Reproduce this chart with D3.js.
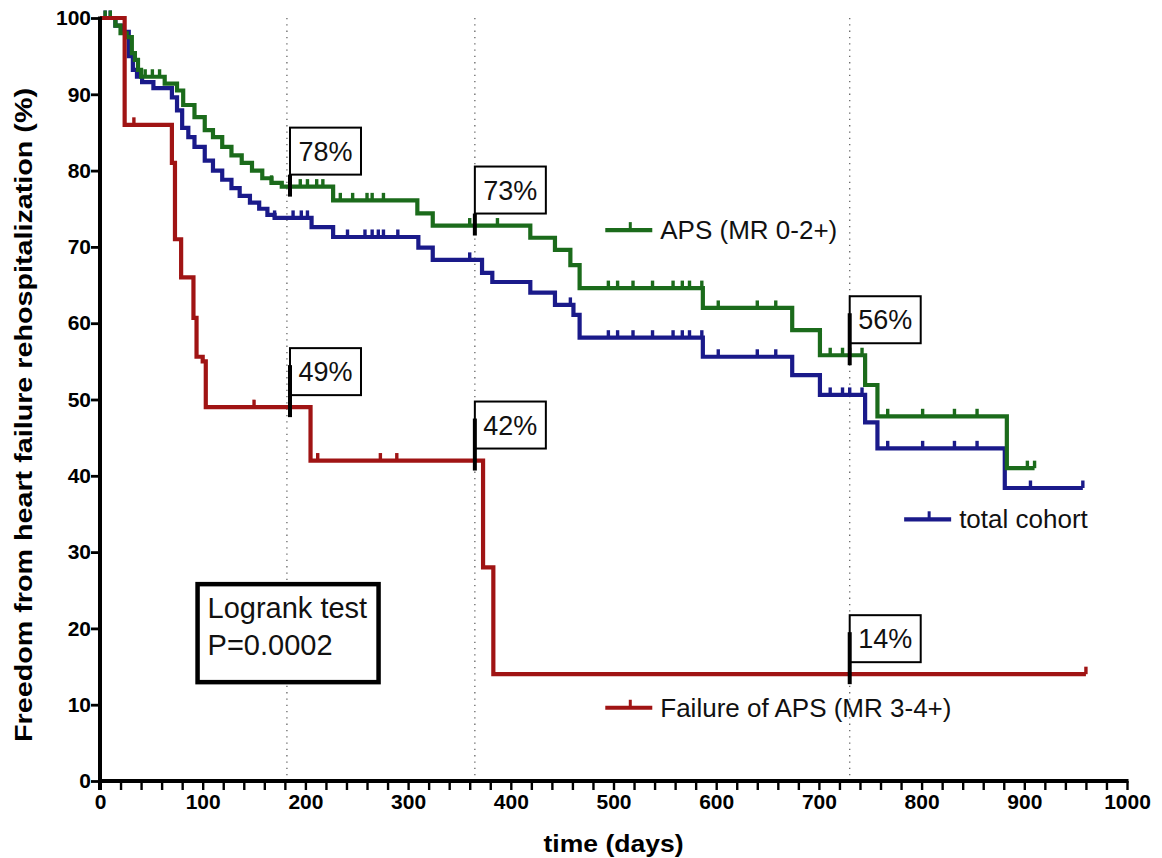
<!DOCTYPE html>
<html><head><meta charset="utf-8">
<script src="https://cdn.jsdelivr.net/npm/d3@7"></script>
<style>body{margin:0;background:#fff}svg{display:block}text{font-family:"Liberation Sans",Arial,sans-serif}</style>
</head><body>
<svg id="c" width="1162" height="858"></svg>
<script>
// ---- data ----
const xTicks = [0,100,200,300,400,500,600,700,800,900,1000];
const yTicks = [0,10,20,30,40,50,60,70,80,90,100];
const refDays = [182,365,730];

// [day, survival %] steps; last entry = end of follow-up
const greenSteps = [[0,100],[15,99],[20,98],[26,97.5],[31,95.4],[34,94.5],[37,93.2],[40,92.3],[63,91.4],[75,90.5],[81,88.6],[92,87],[102,85.3],[110,84.4],[119,83.1],[128,82],[138,81],[148,80],[158,79],[167,78.4],[177,77.9],[227,76.1],[309,74.4],[324,72.8],[419,71.2],[443,69.6],[458,67.6],[467,64.6],[587,62.0],[674,59.1],[701,55.8],[745,51.9],[757,47.8],[883,41.0],[910,41.0]];
const greenCensor = [5,10,44,51,58,167,195,202,211,217,234,246,260,265,276,360,387,495,504,519,538,558,567,574,586,602,640,658,711,723,730,742,767,801,832,854,903,910];

const blueSteps = [[0,100],[15,99],[22,98.2],[28,95],[32,93.2],[36,92.3],[41,91.6],[52,90.8],[70,89.6],[75,87.9],[80,85.6],[86,84.4],[92,83.1],[102,81.3],[110,80],[119,78.8],[128,77.7],[136,76.7],[146,75.8],[155,75],[163,74.2],[170,73.8],[206,72.6],[227,71.3],[310,69.9],[324,68.3],[372,66.6],[382,65.4],[419,64.0],[443,62.4],[461,61.1],[467,58.1],[587,55.6],[674,53.2],[701,50.6],[745,47.0],[757,43.6],[881,38.4],[957,38.4]];
const blueCensor = [5,10,170,188,196,202,241,258,265,271,276,290,360,458,495,504,519,538,558,567,574,586,602,640,658,711,723,730,742,767,801,832,854,906,957];

const redSteps = [[0,100],[24,86],[70,81],[73,71],[79,66],[91,60.7],[94,55.6],[100,55],[103,49],[205,42],[373,28],[383,14],[960,14]];
const redCensor = [33,150,212,273,289,960];

const flags = [
  {label:"78%", day:185, value:77.9, pole:"short"},
  {label:"73%", day:365, value:72.8, pole:"short"},
  {label:"56%", day:730, value:55.8, pole:"long"},
  {label:"49%", day:185, value:49, pole:"long"},
  {label:"42%", day:365, value:42, pole:"long"},
  {label:"14%", day:730, value:14, pole:"long"}
];

const legends = [
  {label:"APS (MR 0-2+)", color:"#1b6b1b", day:492, value:72.2},
  {label:"total cohort", color:"#1a1a8a", day:783, value:34.3},
  {label:"Failure of APS (MR 3-4+)", color:"#a01414", day:492, value:9.6}
];

// ---- drawing ----
const svg = d3.select("#c");
const x = d3.scaleLinear().domain([0,1000]).range([100,1127]);
const y = d3.scaleLinear().domain([0,100]).range([781,18]);

// reference dotted lines
svg.selectAll(".ref").data(refDays).join("line")
  .attr("x1",d=>x(d)).attr("x2",d=>x(d)).attr("y1",y(100)).attr("y2",y(0))
  .attr("stroke","#666").attr("stroke-width",1.3).attr("stroke-dasharray","1.3,5");

const series = [
  {steps:greenSteps, censor:greenCensor, color:"#1b6b1b"},
  {steps:blueSteps, censor:blueCensor, color:"#1a1a8a"},
  {steps:redSteps, censor:redCensor, color:"#a01414"}
];
const line = d3.line().x(d=>x(d[0])).y(d=>y(d[1])).curve(d3.curveStepAfter);
function valAt(steps, t){ let v=steps[0][1]; for(const s of steps){ if(s[0]<=t) v=s[1]; } return v; }

[series[1], series[0], series[2]].forEach(s=>{
  svg.append("path").attr("d",line(s.steps)).attr("fill","none")
    .attr("stroke",s.color).attr("stroke-width",4.2).attr("stroke-linejoin","miter");
  svg.append("g").selectAll("line").data(s.censor).join("line")
    .attr("x1",d=>x(d)).attr("x2",d=>x(d))
    .attr("y1",d=>y(valAt(s.steps,d))).attr("y2",d=>y(valAt(s.steps,d))-7.5)
    .attr("stroke",s.color).attr("stroke-width",3.4);
});

// axes
const xAxis = d3.axisBottom(x).tickValues(d3.range(0,1001,20)).tickSize(9)
  .tickFormat(d=> xTicks.includes(d) ? d : "");
const gx = svg.append("g").attr("transform",`translate(0,${y(0)})`).call(xAxis);
gx.select(".domain").attr("stroke","#000").attr("stroke-width",4).attr("d",`M${x(0)-2},0H${x(1000)+1.5}`);
gx.selectAll(".tick line").attr("stroke","#000").attr("stroke-width",2.4);
gx.selectAll(".tick text").attr("font-size",21).attr("font-weight","bold").attr("fill","#000")
  .attr("dy","0.9em").attr("y",9);

const yAxis = d3.axisLeft(y).tickValues(yTicks).tickSize(9);
const gy = svg.append("g").attr("transform",`translate(${x(0)},0)`).call(yAxis);
gy.select(".domain").attr("stroke","#000").attr("stroke-width",4).attr("d",`M0,${y(0)+9}V${y(100)-1.5}`);
gy.selectAll(".tick line").attr("stroke","#000").attr("stroke-width",2.8);
gy.selectAll(".tick text").attr("font-size",21).attr("font-weight","bold").attr("fill","#000").attr("x",-9);

svg.append("text").attr("x",(x(0)+x(1000))/2).attr("y",852).attr("text-anchor","middle")
  .attr("font-size",24).attr("font-weight","bold")
  .attr("textLength",140).attr("lengthAdjust","spacingAndGlyphs").text("time (days)");
svg.append("text").attr("transform",`translate(32,415) rotate(-90)`)
  .attr("text-anchor","middle").attr("font-size",23).attr("font-weight","bold")
  .attr("textLength",654).attr("lengthAdjust","spacingAndGlyphs")
  .text("Freedom from heart failure rehospitalization (%)");

// flags
const fw=71, fh=47;
flags.forEach(f=>{
  const px = x(f.day), py = y(f.value);
  const bottom = py-12;
  svg.append("rect").attr("x",px).attr("y",bottom-fh).attr("width",fw).attr("height",fh)
    .attr("fill","#fff").attr("stroke","#000").attr("stroke-width",2);
  svg.append("text").attr("x",px+fw/2).attr("y",bottom-fh/2+9.5).attr("text-anchor","middle")
    .attr("font-size",27).attr("fill","#111").text(f.label);
  const top = f.pole==="short" ? bottom : bottom-30;
  svg.append("line").attr("x1",px).attr("x2",px).attr("y1",top).attr("y2",py+10)
    .attr("stroke","#000").attr("stroke-width",4);
});

// legends
legends.forEach(l=>{
  const lx = x(l.day), ly = y(l.value);
  svg.append("line").attr("x1",lx).attr("x2",lx+47).attr("y1",ly).attr("y2",ly)
    .attr("stroke",l.color).attr("stroke-width",4.2);
  svg.append("line").attr("x1",lx+25).attr("x2",lx+25).attr("y1",ly).attr("y2",ly-8)
    .attr("stroke",l.color).attr("stroke-width",3);
  svg.append("text").attr("x",lx+55).attr("y",ly+9).attr("font-size",26).attr("fill","#111").text(l.label);
});

// logrank box
svg.append("rect").attr("x",x(95)).attr("y",y(25.8)).attr("width",181).attr("height",98)
  .attr("fill","#fff").attr("stroke","#000").attr("stroke-width",4.5);
svg.append("text").attr("x",x(95)+10).attr("y",y(21.3)).attr("font-size",29).attr("fill","#111").text("Logrank test");
svg.append("text").attr("x",x(95)+10).attr("y",y(16.5)).attr("font-size",29).attr("fill","#111").text("P=0.0002");
</script>
</body></html>
